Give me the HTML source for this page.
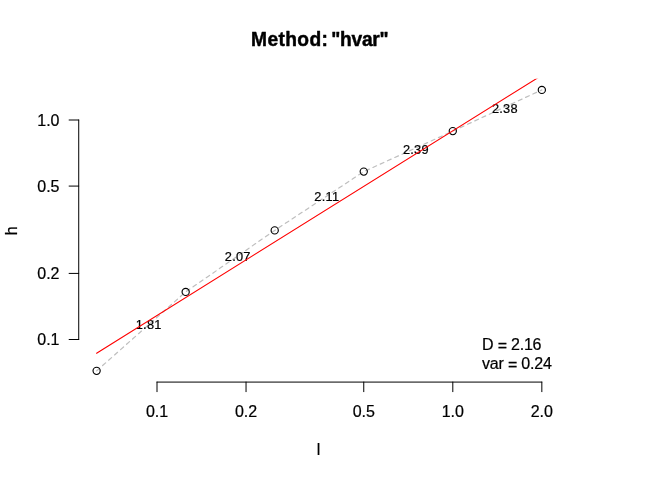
<!DOCTYPE html>
<html><head><meta charset="utf-8"><title>Method: hvar</title>
<style>
html,body{margin:0;padding:0;background:#fff;}
body{width:672px;height:480px;overflow:hidden;}
svg{display:block;will-change:transform;font-family:"Liberation Sans",sans-serif;fill:#000;}
text{stroke:#000;stroke-width:0.22px;stroke-linejoin:round;}
.t text{stroke-width:0.45px;}
</style></head><body>
<svg width="672" height="480" viewBox="0 0 672 480">
<rect width="672" height="480" fill="#fff"/>
<defs><clipPath id="c"><rect x="78.72" y="78.72" width="481.17999999999995" height="303.36"/></clipPath></defs>
<polyline points="96.62,370.85 185.67,291.90 274.71,230.40 363.76,171.60 452.80,131.10 541.84,89.90" fill="none" stroke="#BEBEBE" stroke-width="1.2" stroke-dasharray="4 4" stroke-linecap="round" stroke-linejoin="round"/>
<circle cx="96.62" cy="370.85" r="3.6" fill="none" stroke="#000" stroke-width="1.15"/>
<circle cx="185.67" cy="291.90" r="3.6" fill="none" stroke="#000" stroke-width="1.15"/>
<circle cx="274.71" cy="230.40" r="3.6" fill="none" stroke="#000" stroke-width="1.15"/>
<circle cx="363.76" cy="171.60" r="3.6" fill="none" stroke="#000" stroke-width="1.15"/>
<circle cx="452.80" cy="131.10" r="3.6" fill="none" stroke="#000" stroke-width="1.15"/>
<circle cx="541.84" cy="89.90" r="3.6" fill="none" stroke="#000" stroke-width="1.15"/>
<text x="148.71" y="328.88" font-size="12.8" letter-spacing="0.25" text-anchor="middle">1.81</text>
<text x="237.75" y="260.87" font-size="12.8" letter-spacing="0.25" text-anchor="middle">2.07</text>
<text x="326.80" y="201.14" font-size="12.8" letter-spacing="0.25" text-anchor="middle">2.11</text>
<text x="415.84" y="153.82" font-size="12.8" letter-spacing="0.25" text-anchor="middle">2.39</text>
<text x="504.89" y="112.89" font-size="12.8" letter-spacing="0.25" text-anchor="middle">2.38</text>
<line x1="96.6" y1="353.2" x2="541.84" y2="75.28" stroke="#FF0000" stroke-width="1.12" stroke-linecap="round" clip-path="url(#c)"/>
<path d="M157.00 382.08 H541.84" stroke="#000" stroke-linecap="round" fill="none"/>
<path d="M157.00 382.08 v9.6" stroke="#000" stroke-linecap="round" fill="none"/>
<text x="157.00" y="417" font-size="16" text-anchor="middle">0.1</text>
<path d="M246.04 382.08 v9.6" stroke="#000" stroke-linecap="round" fill="none"/>
<text x="246.04" y="417" font-size="16" text-anchor="middle">0.2</text>
<path d="M363.76 382.08 v9.6" stroke="#000" stroke-linecap="round" fill="none"/>
<text x="363.76" y="417" font-size="16" text-anchor="middle">0.5</text>
<path d="M452.80 382.08 v9.6" stroke="#000" stroke-linecap="round" fill="none"/>
<text x="452.80" y="417" font-size="16" text-anchor="middle">1.0</text>
<path d="M541.84 382.08 v9.6" stroke="#000" stroke-linecap="round" fill="none"/>
<text x="541.84" y="417" font-size="16" text-anchor="middle">2.0</text>
<path d="M78.72 339.50 V120.00" stroke="#000" stroke-linecap="round" fill="none"/>
<path d="M78.72 339.50 h-9.6" stroke="#000" stroke-linecap="round" fill="none"/>
<text x="59.5" y="345.20" font-size="16" text-anchor="end">0.1</text>
<path d="M78.72 273.42 h-9.6" stroke="#000" stroke-linecap="round" fill="none"/>
<text x="59.5" y="279.12" font-size="16" text-anchor="end">0.2</text>
<path d="M78.72 186.08 h-9.6" stroke="#000" stroke-linecap="round" fill="none"/>
<text x="59.5" y="191.78" font-size="16" text-anchor="end">0.5</text>
<path d="M78.72 120.00 h-9.6" stroke="#000" stroke-linecap="round" fill="none"/>
<text x="59.5" y="125.70" font-size="16" text-anchor="end">1.0</text>
<g class="t" font-size="19.2" font-weight="bold"><text transform="translate(251.0,45.6) scale(1,1.04)" letter-spacing="0.4">Method:</text><text transform="translate(331.3,45.6) scale(1,1.04)" letter-spacing="-0.3">&quot;hvar&quot;</text></g>
<text x="318.51" y="455" font-size="16" text-anchor="middle">l</text>
<text transform="translate(17.1,230.7) rotate(-90)" font-size="16" text-anchor="middle">h</text>
<text x="482.1" y="349.8" font-size="16" letter-spacing="-0.22">D <tspan dy="1.4">=</tspan><tspan dy="-1.4"> 2.16</tspan></text>
<text x="482.0" y="368.6" font-size="16" letter-spacing="-0.2">var <tspan dy="1.4">=</tspan><tspan dy="-1.4"> 0.24</tspan></text>
</svg>
</body></html>
